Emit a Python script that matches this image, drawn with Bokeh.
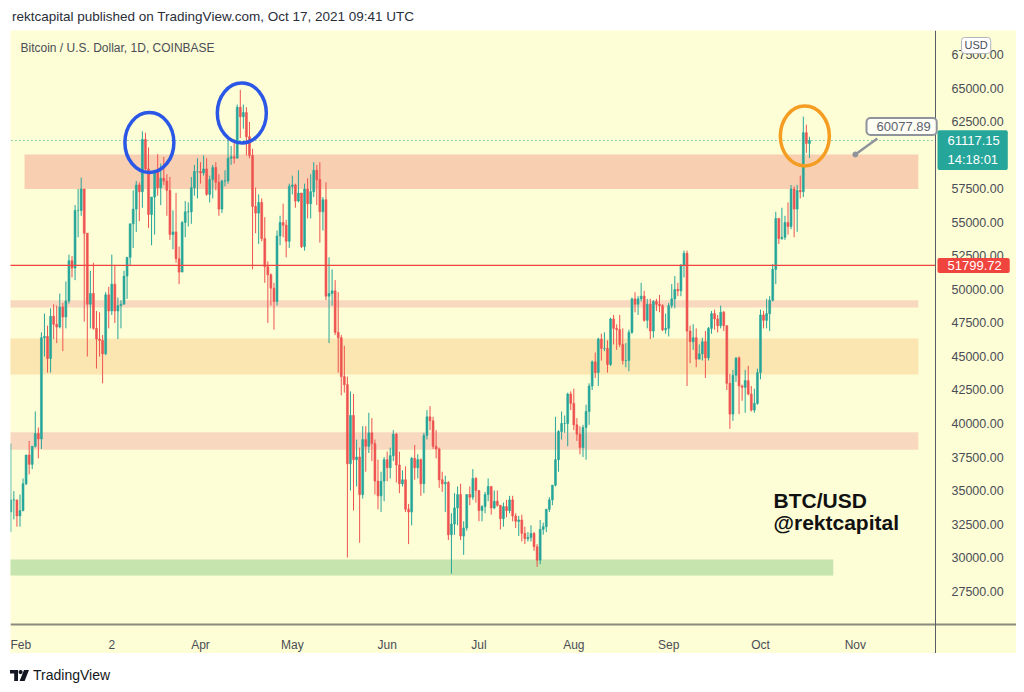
import pandas as pd
from bokeh.plotting import figure
from bokeh.models import Range1d, FixedTicker, NumeralTickFormatter, Label, Div, ColumnDataSource, LinearAxis
from bokeh.layouts import column
from bokeh.embed import file_html
from bokeh.resources import INLINE

# ---------------- data (daily BTC/USD, Coinbase) ----------------
START_DATE = "2021-01-29"
FIRST_OPEN = 33400

close_jan = [34300, 34300, 33100]
high_jan = [38500, 34950, 34300]
low_jan = [31900, 32850, 32300]

close_feb = [33500, 35500, 37650, 36950, 38300, 39250, 38850, 46400, 46500, 44850,
             48000, 47400, 47200, 48700, 47950, 49150, 52150, 51600, 55900, 55900,
             57500, 54200, 48900, 49700, 47100, 46300, 46200, 45200]
high_feb = [34700, 35900, 37650, 38700, 38300, 40900, 39700, 46800, 48200, 47300,
            48600, 48900, 48800, 49700, 49000, 50600, 52600, 52500, 56300, 57500,
            58350, 57500, 54200, 51400, 52000, 48400, 48300, 46600]
low_feb = [32300, 33450, 35400, 36200, 36600, 38200, 37400, 38100, 45000, 43800,
           43800, 46300, 46000, 47100, 45400, 47100, 48950, 50900, 50700, 53900,
           55500, 47600, 45000, 47100, 47000, 44100, 45000, 43000]

close_mar = [49600, 48400, 50400, 48400, 48800, 48900, 51000, 52400, 54900, 56000,
             57800, 57300, 61200, 59000, 55600, 56900, 58900, 57600, 58300, 58100,
             57400, 54100, 54300, 52300, 51300, 55000, 55800, 55800, 57600, 58800, 58800]
high_mar = [49800, 50200, 52600, 51800, 49400, 49200, 51400, 52400, 54900, 57400,
            58100, 58000, 61800, 61700, 60600, 56900, 58900, 60100, 59400, 59900,
            58600, 58400, 55900, 57200, 53200, 55100, 56600, 56500, 58400, 59300, 59800]
low_mar = [45100, 47100, 48100, 47500, 46300, 47100, 48900, 49300, 51800, 53100,
           54300, 55100, 56100, 58900, 54600, 53300, 54100, 57000, 56300, 57800,
           55500, 53700, 53000, 52000, 50400, 51300, 53900, 54700, 54900, 57000, 56800]

close_apr = [58700, 59000, 57100, 58200, 59100, 58000, 56000, 58100, 58100, 59800,
             59900, 59800, 63600, 62900, 63200, 61400, 60000, 56200, 55700, 56500,
             53800, 51700, 51100, 50100, 49100, 54000, 55000, 54800, 53600, 57700]
high_apr = [59500, 60000, 59800, 58500, 59300, 59500, 58600, 58200, 58900, 61200,
            60700, 61200, 63800, 64900, 63800, 63600, 62500, 60500, 57600, 57100,
            56800, 55400, 52100, 51200, 50500, 54400, 55500, 56400, 55200, 57900]
low_apr = [57900, 58500, 57000, 56500, 56800, 57400, 55500, 55700, 57700, 57900,
           59300, 59400, 59800, 61300, 62000, 60000, 59800, 51500, 54200, 53400,
           53600, 50500, 47500, 48800, 47000, 48800, 53300, 53900, 52400, 53100]

close_may = [57800, 56600, 57200, 53200, 57500, 56400, 57300, 58900, 58200, 55800,
             56700, 49500, 49700, 49900, 46800, 46400, 43500, 42900, 37000, 40600,
             37300, 37500, 34700, 38800, 38300, 39300, 38500, 35700, 34600, 35700, 37300]
high_may = [58500, 57900, 58900, 57200, 57900, 58300, 58600, 59500, 59300, 59500,
            56900, 58000, 52400, 51500, 50700, 49800, 46600, 45800, 43500, 42400,
            42200, 38800, 38200, 39800, 39800, 40800, 40400, 38800, 37300, 36400, 37500]
low_may = [57100, 56100, 56500, 53100, 52900, 55300, 55300, 56900, 56300, 53500,
           54400, 49200, 46000, 48800, 46600, 43800, 42100, 42300, 30000, 35000,
           33500, 35300, 31100, 34400, 36400, 37800, 37200, 34700, 33600, 33400, 34200]

close_jun = [36700, 37600, 39200, 36900, 35500, 35800, 33600, 33400, 37400, 36700,
             37300, 35500, 39100, 40500, 40200, 38300, 38100, 35800, 35500, 35600,
             31700, 32500, 33700, 34700, 31600, 32200, 34700, 34500, 35900, 35000]
high_jun = [37900, 38200, 39500, 39300, 37900, 36500, 36800, 34000, 37500, 38400,
            37700, 37400, 39300, 41000, 41300, 40500, 39500, 38200, 36400, 36100,
            35700, 33300, 34800, 35300, 35500, 32700, 34700, 35300, 36600, 36000]
low_jun = [35700, 35900, 37200, 35600, 34800, 35300, 33400, 31000, 32400, 35800,
           35900, 34600, 34800, 38800, 39500, 38100, 37400, 35200, 34900, 33400,
           31300, 28800, 31700, 32400, 31300, 30200, 32000, 33900, 34300, 34100]

close_jul = [33500, 33800, 34700, 35300, 33700, 34200, 33900, 32900, 33800, 33500,
             34300, 33100, 32700, 32800, 31800, 31400, 31500, 31800, 30800, 29800,
             32100, 32300, 33600, 34300, 35400, 37300, 39400, 40000, 40000, 42200, 41500]
high_jul = [35000, 33900, 34900, 35900, 35300, 35000, 35000, 33900, 34100, 34300,
            34600, 34600, 33300, 33100, 33200, 32300, 31900, 32400, 31900, 31000,
            32800, 32600, 33600, 34500, 35400, 40500, 39500, 40900, 40600, 42300, 42400]
low_jul = [32700, 32700, 33300, 34200, 33200, 33600, 33800, 32100, 32300, 33000,
           33300, 32700, 32200, 31600, 31200, 31000, 31200, 31200, 30500, 29300,
           29500, 31700, 31900, 33400, 33900, 35300, 36400, 38800, 39300, 38300, 41000]

close_aug = [39900, 39200, 38200, 39700, 40900, 42800, 44600, 43800, 46300, 45600,
             45600, 44400, 47800, 47100, 47000, 45900, 44700, 44700, 46800, 49300,
             48900, 49300, 49500, 47700, 48900, 46900, 49100, 48900, 48800, 47000, 47100]
high_aug = [42600, 40400, 39800, 39900, 41400, 43000, 44700, 45300, 46400, 46700,
            46800, 46200, 47900, 48100, 47400, 48100, 47100, 46000, 47000, 49400,
            49800, 49500, 50500, 49900, 49300, 49300, 49200, 49300, 49600, 48900, 48200]
low_aug = [39500, 38700, 37700, 37500, 37300, 39900, 42500, 43400, 42800, 44700,
           45400, 43800, 44300, 45900, 45500, 45700, 44400, 44200, 43900, 46700,
           48300, 48100, 49100, 47600, 47100, 46300, 46400, 48400, 48300, 46900, 46700]

close_sep = [48800, 49300, 50000, 49900, 51800, 52700, 46900, 46100, 46400, 44800,
             45200, 46100, 44900, 47100, 48200, 47800, 47300, 48300, 47300, 43000,
             40700, 43600, 44900, 42800, 42700, 43200, 42200, 41000, 41500, 43800]
high_sep = [49000, 50400, 51000, 50500, 51900, 52900, 52900, 47300, 47400, 47100,
            45900, 46400, 46900, 47200, 48400, 48500, 48100, 48800, 48400, 47300,
            43700, 44000, 44900, 45000, 42900, 44000, 44300, 42800, 42600, 44100]
low_sep = [46500, 48600, 48600, 49500, 49500, 50900, 42800, 44500, 45500, 44200,
           44800, 44700, 43400, 44700, 46700, 47000, 46800, 47100, 46900, 42500,
           39600, 40200, 43100, 40700, 41700, 40800, 42100, 40900, 40800, 41400]

close_oct = [48100, 47700, 48200, 49200, 51500, 55300, 53800, 53900, 55000, 54700,
             57500, 56000, 57400, 57300, 61700, 60900, 61117.15]
high_oct = [48500, 48400, 49300, 49500, 51900, 55800, 55300, 56100, 55500, 56500,
            57800, 57700, 57800, 58500, 62900, 62300, 61400]
low_oct = [43300, 47100, 47100, 46900, 49100, 50400, 53400, 53700, 53700, 54100,
           54500, 53900, 54300, 56800, 56900, 60200, 59800]

LAST_PRICE = 61117.15
LAST_TIME = "14:18:01"
RED_LEVEL = 51799.72
CALLOUT_LEVEL = 60077.89

# horizontal zones: (bottom, top, left date, right date, color)
zone_bottom = [57500, 48650, 43650, 38050, 28650]
zone_top = [CALLOUT_LEVEL, 49200, 46350, 39350, 29850]
zone_left = ["2021-02-02 12:00", "2021-01-27", "2021-01-27", "2021-01-27", "2021-01-27"]
zone_right = ["2021-11-21 14:00", "2021-11-21 14:00", "2021-11-21 14:00", "2021-11-21 14:00", "2021-10-24 19:00"]
zone_color = ["#f8cfb1", "#f8d9bf", "#fbe5b0", "#f8d9bf", "#c6e4ae"]

# hand-drawn circles (centre date, centre price, colour)
circle_date = ["2021-03-15 07:00", "2021-04-14 12:00", "2021-10-15 12:00"]
circle_price = [60970, 63172, 61455]
circle_color = ["#2b57e6", "#2b57e6", "#f59d22"]

# callout pointer (from dot to box)
callout_dot_date = "2021-11-01"
callout_tip_date = "2021-11-08 05:00"
callout_tip_price = 61270
callout_text_price = 62164

month_dates = ["2021-02-01", "2021-03-03", "2021-04-01", "2021-05-01", "2021-06-01",
               "2021-07-01", "2021-08-01", "2021-09-01", "2021-10-01", "2021-11-01"]
month_labels = ["Feb", "2", "Apr", "May", "Jun", "Jul", "Aug", "Sep", "Oct", "Nov"]
price_ticks = [27500, 30000, 32500, 35000, 37500, 40000, 42500, 45000, 47500,
               50000, 52500, 55000, 57500, 60000, 62500, 65000, 67500]

# ---------------- build ----------------
closes = (close_jan + close_feb + close_mar + close_apr + close_may + close_jun +
          close_jul + close_aug + close_sep + close_oct)
highs = (high_jan + high_feb + high_mar + high_apr + high_may + high_jun +
         high_jul + high_aug + high_sep + high_oct)
lows = (low_jan + low_feb + low_mar + low_apr + low_may + low_jun +
        low_jul + low_aug + low_sep + low_oct)
assert len(closes) == len(highs) == len(lows) == 262
opens = [FIRST_OPEN] + closes[:-1]

BASE = pd.Timestamp("2021-01-01")


def dnum(s):
    return (pd.Timestamp(s) - BASE) / pd.Timedelta(days=1)


dates = pd.date_range(START_DATE, periods=len(closes), freq="D")
xs = [(d - BASE) / pd.Timedelta(days=1) for d in dates]

UP, DOWN = "#26a69a", "#ef5350"
colors = [UP if c >= o else DOWN for o, c in zip(opens, closes)]
src = ColumnDataSource(dict(
    x=xs, open=opens, close=closes, high=highs, low=lows,
    top=[max(o, c) for o, c in zip(opens, closes)],
    bottom=[min(o, c) for o, c in zip(opens, closes)],
    color=colors))

BG = "#fdfdd6"
FONT = "Liberation Sans"

X_START = 27.9              # left edge of the chart
X_SEP = 330.2               # price-scale separator (day number)
X_END = X_SEP + 81 / 3.06   # right edge of the price-scale strip
Y_TOP = 69328
Y_TIME_AXIS = 25000         # time-scale separator
Y_BOTTOM = 22836            # bottom of the time-scale strip

p = figure(width=1006, height=623,
           x_range=Range1d(X_START, X_END), y_range=Range1d(Y_BOTTOM, Y_TOP),
           output_backend="svg", toolbar_location=None,
           y_axis_location=None, x_axis_location=None,
           min_border_left=0, min_border_top=0, min_border_right=0, min_border_bottom=0,
           background_fill_color=BG, border_fill_color=BG, outline_line_color=None,
           margin=(0, 0, 0, 2))
p.xgrid.visible = False
p.ygrid.visible = False

# zones
p.quad(left=[dnum(s) for s in zone_left], right=[dnum(s) for s in zone_right],
       bottom=zone_bottom, top=zone_top, fill_color=zone_color, line_color=None)

# candles
p.segment(x0="x", y0="high", x1="x", y1="low", line_color="color", line_width=1, source=src)
p.vbar(x="x", width=0.62, top="top", bottom="bottom", fill_color="color",
       line_color="color", line_width=0.6, source=src)

# levels (stop at the price scale)
p.segment(x0=[X_START - 1], y0=[RED_LEVEL], x1=[X_SEP], y1=[RED_LEVEL],
          line_color="#f0443e", line_width=1.2)
p.segment(x0=[X_START - 1], y0=[LAST_PRICE], x1=[X_SEP], y1=[LAST_PRICE],
          line_color=UP, line_width=1, line_dash="1 3")

# circles
p.ellipse(x=[dnum(s) for s in circle_date], y=circle_price, width=49, height=60,
          width_units="screen", height_units="screen", fill_color=None,
          line_color=circle_color, line_width=3.5)

# callout pointer + dot
p.segment(x0=[dnum(callout_dot_date)], y0=[CALLOUT_LEVEL], x1=[dnum(callout_tip_date)],
          y1=[callout_tip_price], line_color="#8f939c", line_width=2.5)
p.scatter(x=[dnum(callout_dot_date)], y=[CALLOUT_LEVEL], size=5, color="#8f939c")

# price axis at the separator inside the frame
yax = LinearAxis(fixed_location=X_SEP)
yax.ticker = FixedTicker(ticks=price_ticks)
yax.formatter = NumeralTickFormatter(format="0.00")
yax.major_tick_line_color = None
yax.minor_tick_line_color = None
yax.major_label_standoff = 10
yax.axis_line_color = "#5a5d66"
yax.major_label_text_font = FONT
yax.major_label_text_font_size = "12.5px"
yax.major_label_text_color = "#4a4d55"
p.add_layout(yax, "right")

# time axis at its separator inside the frame
mticks = [dnum(s) for s in month_dates]
xax = LinearAxis(fixed_location=Y_TIME_AXIS)
xax.ticker = FixedTicker(ticks=mticks)
xax.major_label_overrides = {t: lab for t, lab in zip(mticks, month_labels)}
xax.major_tick_line_color = None
xax.minor_tick_line_color = None
xax.major_label_standoff = 7
xax.axis_line_color = "#8a8a7e"
xax.axis_line_width = 2
xax.major_label_text_font = FONT
xax.major_label_text_font_size = "12px"
xax.major_label_text_color = "#4a4d55"
p.add_layout(xax, "below")

# labels
p.add_layout(Label(x=10, x_units="screen", y=67985, text="Bitcoin / U.S. Dollar, 1D, COINBASE",
                   text_font=FONT, text_font_size="12px", text_color="#4a4d55",
                   text_baseline="middle"))
p.add_layout(Label(x=763, x_units="screen", y=34254, text="BTC/USD", text_font=FONT,
                   text_font_size="21px", text_font_style="bold", text_color="#111111",
                   text_baseline="middle"))
p.add_layout(Label(x=763, x_units="screen", y=32612, text="@rektcapital", text_font=FONT,
                   text_font_size="21px", text_font_style="bold", text_color="#111111",
                   text_baseline="middle"))

p.add_layout(Label(x=856, x_units="screen", y=callout_text_price, text=f"{CALLOUT_LEVEL:.2f}",
                   text_font=FONT, text_font_size="13px", text_color="#5b6270",
                   text_baseline="middle", background_fill_color="#fffef4",
                   border_line_color="#8f939c", border_line_width=2, border_radius=4,
                   padding=dict(left=10, right=6, top=4, bottom=4)))

p.add_layout(Label(x=927, x_units="screen", y=RED_LEVEL, text=f"{RED_LEVEL:.2f}",
                   text_font=FONT, text_font_size="13px", text_color="white",
                   text_baseline="middle", background_fill_color="#f0443e", border_radius=2,
                   padding=dict(left=10, right=8, top=3, bottom=3)))
p.add_layout(Label(x=927, x_units="screen", y=60410, text=f"{LAST_PRICE:.2f}\n{LAST_TIME}",
                   text_font=FONT, text_font_size="13px", text_color="white",
                   text_line_height=1.25, text_baseline="middle",
                   background_fill_color=UP, border_radius=2,
                   padding=dict(left=10, right=8, top=3, bottom=3)))
p.add_layout(Label(x=951, x_units="screen", y=68209, text="USD", text_font=FONT,
                   text_font_size="11px", text_color="#4a4d55", text_baseline="middle",
                   background_fill_color="#ffffff", border_line_color="#b2b5be",
                   border_radius=3, padding=dict(left=3, right=3, top=2, bottom=2)))

title = Div(text="rektcapital published on TradingView.com, Oct 17, 2021 09:41 UTC",
            width=1006, height=22, margin=(0, 0, 0, 0),
            styles={"font-family": FONT, "font-size": "13.5px", "color": "#2a2e39",
                    "padding-left": "4px", "line-height": "18px"})
logo = Div(text=('<div style="display:flex;align-items:center;gap:4px;">'
                 '<svg width="19" height="11" viewBox="0 0 19 11">'
                 '<path d="M0 0H8V11H4.2V3.6H0Z" fill="#131722"/>'
                 '<circle cx="10.6" cy="2.1" r="2.1" fill="#131722"/>'
                 '<path d="M14 0H19L14.6 11H9.6Z" fill="#131722"/></svg>'
                 '<span>TradingView</span></div>'),
           width=300, height=30, margin=(0, 0, 0, 2),
           styles={"font-family": FONT, "font-size": "14px", "color": "#131722",
                   "padding-top": "12px"})

layout = column(title, p, logo, spacing=0, margin=(8, 0, 0, 8))
open("out.html", "w").write(file_html(layout, INLINE))
